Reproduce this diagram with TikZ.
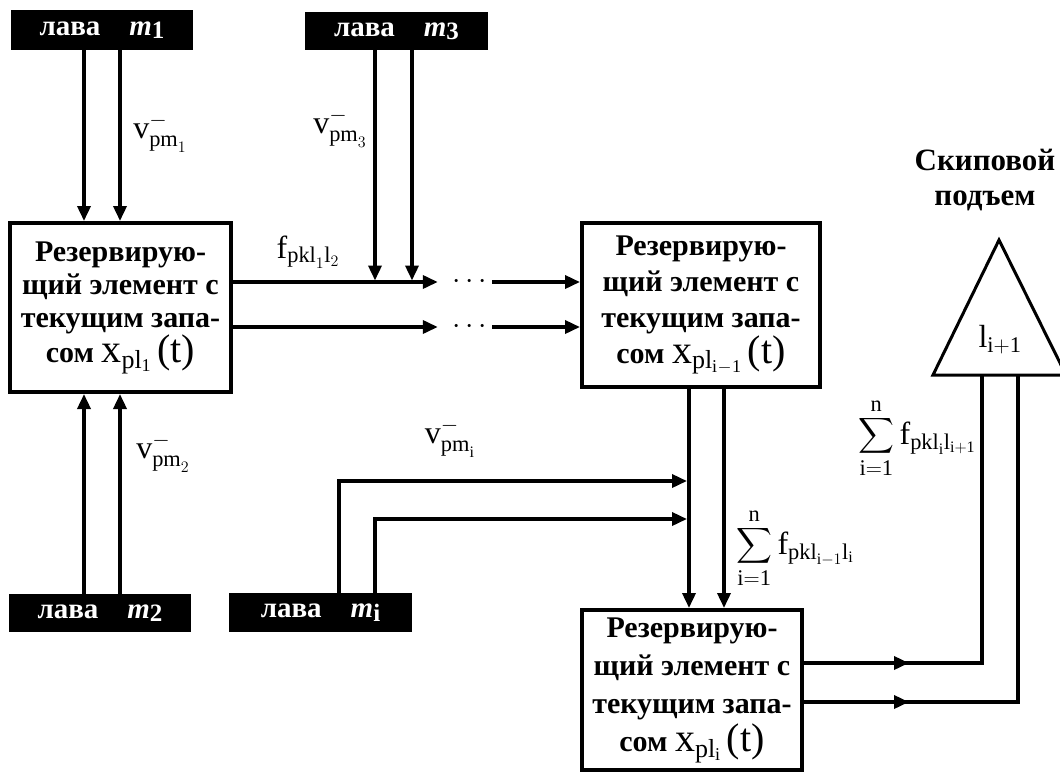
\RequirePackage{fix-cm}
\documentclass[tikz,border=0pt]{standalone}
\usepackage{amsmath}
\usepackage{fontspec}
\setmainfont{Liberation Serif}
\usetikzlibrary{arrows.meta,decorations.markings}
% stock x_{pl_{#1}}(t), set as regular text
\newcommand{\stockx}[1]{{\mdseries\fontsize{40}{40}\selectfont x\raisebox{-0.32ex}{\fontsize{26}{26}\selectfont pl\raisebox{-0.3ex}{\fontsize{18}{18}\selectfont #1}}\,(t)}}
\begin{document}
\begin{tikzpicture}[x=1pt,y=-1pt,
  box/.style={draw, line width=4pt, align=center, inner sep=0pt,
    font=\fontsize{30}{#1}\selectfont\bfseries},
  box/.default=36,
  lava/.style={fill=black, text=white, inner sep=0pt,
    font=\fontsize{29}{30}\selectfont\bfseries},
  lbl/.style={font=\fontsize{32}{36}\selectfont, inner sep=0pt},
  dotsnode/.style={minimum width=40pt, inner sep=0pt, font=\fontsize{30}{30}\selectfont},
  ln/.style={line width=3.5pt},
  arr/.style={ln, -{Triangle[length=15pt,width=13pt]}},
  midarr/.style={ln, postaction={decorate}, decoration={markings,
    mark=at position #1 with {\arrow{Triangle[length=15pt,width=13pt]}}}}
]
\useasboundingbox (0,0) rectangle (1060,774);

% columns and rows
\coordinate (L1) at (84,0);
\coordinate (L2) at (120,0);
\coordinate (L3) at (375,0);
\coordinate (L4) at (412,0);
\coordinate (L5) at (689,0);
\coordinate (L6) at (724,0);
\coordinate (L7) at (339,0);
\coordinate (L8) at (375,0);
\coordinate (L9) at (982,0);
\coordinate (L10) at (1018,0);
\coordinate (H1) at (0,282);
\coordinate (H2) at (0,327);
\coordinate (H3) at (0,481);
\coordinate (H4) at (0,519);
\coordinate (H5) at (0,663);
\coordinate (H6) at (0,702);

% sources
\node[lava, minimum width=182pt, minimum height=40pt] (m1) at (102,30)
  {лава\quad\textit{m}\raisebox{-0.25ex}{\fontsize{25}{25}\selectfont 1}};
\node[lava, minimum width=183pt, minimum height=38pt] (m3) at (396.5,31)
  {лава\quad\textit{m}\raisebox{-0.25ex}{\fontsize{25}{25}\selectfont 3}};
\node[lava, minimum width=182pt, minimum height=38pt] (m2) at (100,613)
  {лава\quad\textit{m}\raisebox{-0.25ex}{\fontsize{25}{25}\selectfont 2}};
\node[lava, minimum width=183pt, minimum height=39pt] (mi) at (320.5,612.5)
  {лава\quad\textit{m}\raisebox{-0.25ex}{\fontsize{25}{25}\selectfont i}};

% reserve elements
\node[box=33, minimum width=221pt, minimum height=169pt] (box1) at (120.5,307.5)
  {Резервирую-\\щий элемент с\\текущим запа-\\сом\ \stockx{1}};
\node[box=36, minimum width=238pt, minimum height=164pt] (box2) at (701,305)
  {Резервирую-\\щий элемент с\\текущим запа-\\сом\ \stockx{i\hspace{0.5pt}$-$\hspace{0.5pt}1}};
\node[box=38, minimum width=220pt, minimum height=160pt] (box3) at (692,690)
  {Резервирую-\\щий элемент с\\текущим запа-\\сом\ \stockx{i}};

% skip hoist
\draw[line width=3pt] (999,240) -- (1066,375) -- (933,375) -- cycle;
\coordinate (tri) at (999,375);
\node[lbl] (tril) at (1000,340) {$\mathrm{l}_{\mathrm{i+1}}$};
\node[align=center, inner sep=0pt, font=\fontsize{31}{35}\selectfont\bfseries] (lift) at (985,180)
  {Скиповой\\подъем};

% dots
\node[dotsnode] (d1) at (465,282) {\hspace*{14pt}$\cdots$};
\node[dotsnode] (d2) at (465,327) {\hspace*{14pt}$\cdots$};

% connectors
\draw[arr] (m1.south -| L1) -- (box1.north -| L1);
\draw[arr] (m1.south -| L2) -- (box1.north -| L2);
\draw[arr] (m2.north -| L1) -- (box1.south -| L1);
\draw[arr] (m2.north -| L2) -- (box1.south -| L2);
\draw[arr, shorten >=1.5pt] (m3.south -| L3) -- (L3 |- H1);
\draw[arr, shorten >=1.5pt] (m3.south -| L4) -- (L4 |- H1);
\draw[arr] (box1.east |- H1) -- (d1.west |- H1);
\draw[arr] (d1.east |- H1) -- (box2.west |- H1);
\draw[arr] (box1.east |- H2) -- (d2.west |- H2);
\draw[arr] (d2.east |- H2) -- (box2.west |- H2);
\draw[arr] (box2.south -| L5) -- (box3.north -| L5);
\draw[arr] (box2.south -| L6) -- (box3.north -| L6);
\draw[arr, shorten >=2pt] (mi.north -| L7) |- (L5 |- H3);
\draw[arr, shorten >=2pt] (mi.north -| L8) |- (L5 |- H4);
\draw[midarr=105pt] (box3.east |- H5) -| (tri -| L9);
\draw[midarr=105pt] (box3.east |- H6) -| (tri -| L10);

% labels
\node[lbl] (lv1) at (160,133) {$\mathrm{v}^{-}_{\mathrm{pm}_{1}}$};
\node[lbl] (lv2) at (163,453) {$\mathrm{v}^{-}_{\mathrm{pm}_{2}}$};
\node[lbl] (lv3) at (340,128) {$\mathrm{v}^{-}_{\mathrm{pm}_{3}}$};
\node[lbl] (lvi) at (450,438) {$\mathrm{v}^{-}_{\mathrm{pm}_{\mathrm{i}}}$};
\node[lbl] (lf) at (308,252) {$\mathrm{f}_{\mathrm{pkl}_{1}\mathrm{l}_{2}}$};
\node[lbl] (s1) at (795,548) {$\displaystyle\sum_{\mathrm{i=1}}^{\mathrm{n}}\mathrm{f}_{\mathrm{pkl}_{\mathrm{i}-1}\mathrm{l}_{\mathrm{i}}}$};
\node[lbl] (s2) at (917,438) {$\displaystyle\sum_{\mathrm{i=1}}^{\mathrm{n}}\mathrm{f}_{\mathrm{pkl}_{\mathrm{i}}\mathrm{l}_{\mathrm{i+1}}}$};
\end{tikzpicture}
\end{document}
